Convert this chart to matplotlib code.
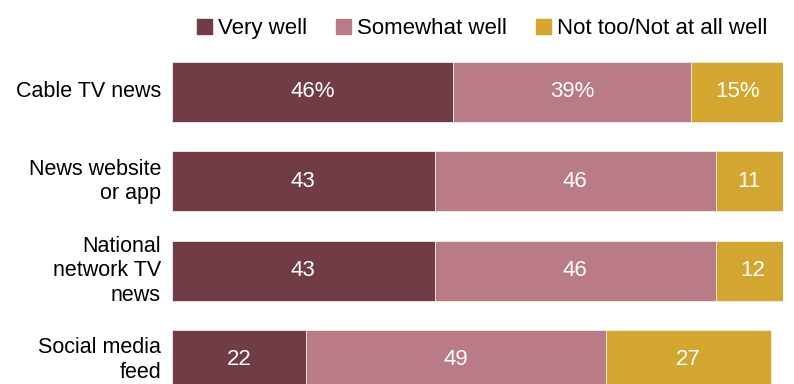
import numpy as np
import matplotlib.pyplot as plt
from matplotlib.patches import Patch
from matplotlib.transforms import offset_copy

plt.rcParams["font.family"] = ["Liberation Sans", "DejaVu Sans"]

sources = ["Cable TV news", "News website\nor app", "National\nnetwork TV\nnews", "Social media\nfeed"]
very_well = [46, 43, 43, 22]
somewhat_well = [39, 46, 46, 49]
not_well = [15, 11, 12, 27]

series = [
    ("Very well", very_well, "#723c47"),
    ("Somewhat well", somewhat_well, "#b97c87"),
    ("Not too/Not at all well", not_well, "#d3a72f"),
]


def plot_bars():
    fig = plt.figure(figsize=(7.94, 3.84), dpi=100)
    ax = fig.add_axes([172 / 794, 0, 611 / 794, 1])
    y = np.arange(len(sources))
    left = np.zeros(len(sources))
    for name, vals, color in series:
        vals = np.array(vals, dtype=float)
        ax.barh(y, vals, left=left, height=0.67, color=color,
                edgecolor="#f3ece6", linewidth=0.6, label=name)
        for i, v in enumerate(vals):
            txt = f"{int(v)}%" if i == 0 else f"{int(v)}"
            ax.text(left[i] + v / 2, y[i], txt, ha="center", va="center",
                    color="white", fontsize=16)
        left += vals

    ax.set_xlim(0, 100)
    ax.set_ylim(3.27, -1.03)
    ax.set_yticks([])
    ax.set_xticks([])
    for s in ax.spines.values():
        s.set_visible(False)

    # category labels to the left of the bars
    lbl_trans = offset_copy(ax.get_yaxis_transform(), fig=fig, x=-11, y=0, units="dots")
    for yi, name in zip(y, sources):
        ax.text(0, yi, name, transform=lbl_trans, ha="right", va="center",
                fontsize=15.5, linespacing=1.22, clip_on=False)

    handles = [Patch(color=c, label=n) for n, _, c in series]
    fig.legend(handles=handles, loc="upper center", ncol=3,
               bbox_to_anchor=(0.607, 1.005), frameon=False, fontsize=16,
               handlelength=0.7, handleheight=0.7, handletextpad=0.25,
               columnspacing=1.3)
    fig.savefig("out.png", dpi=100)


def main():
    plot_bars()


if __name__ == "__main__":
    main()
